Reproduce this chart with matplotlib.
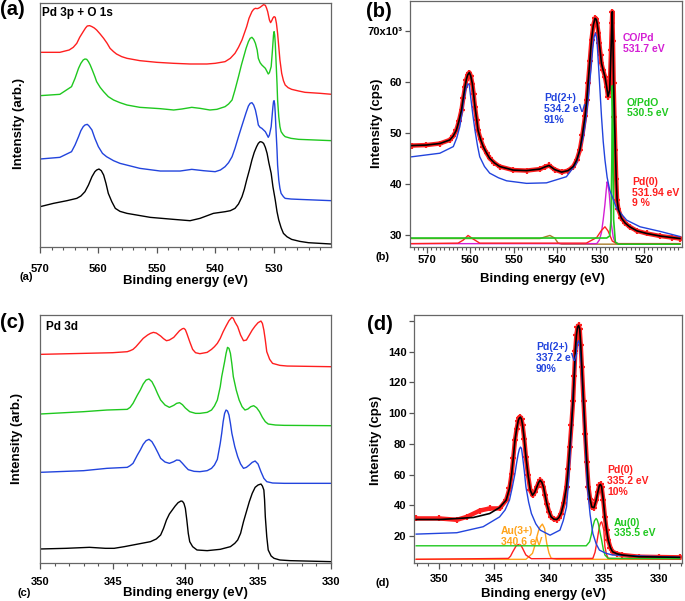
import matplotlib
matplotlib.use('Agg')
import matplotlib.pyplot as plt
from matplotlib.ticker import MultipleLocator, FixedLocator

plt.rcParams['font.family'] = ['Liberation Sans', 'DejaVu Sans']
plt.rcParams['font.weight'] = 'bold'
plt.rcParams['axes.labelweight'] = 'bold'

RED = '#ff1f1f'
GREEN = '#1fc81f'
BLUE = '#2244dd'
MAGENTA = '#d41fd4'
ORANGE = '#ffa31a'
OLIVE = '#a87c2a'

# ---- (a) Pd 3p + O 1s, arbitrary intensity ----
a_red_x = [570.0, 566.6, 565.0, 564.3, 563.7, 563.2, 562.6, 562.2, 561.9, 561.5, 561.1, 560.7, 560.3,
           559.7, 559.1, 558.5, 558.0, 557.4, 556.9, 556.0, 555.1, 552.9, 550.0, 547.1, 544.3, 541.4,
           540.0, 538.3, 537.4, 536.6, 536.0, 535.4, 535.0, 534.6, 534.2, 533.7, 533.4, 533.1, 532.8,
           532.6, 532.3, 532.0, 531.7, 531.4, 531.2, 531.0, 530.7, 530.5, 530.3, 530.1, 529.9, 529.7,
           529.5, 529.3, 529.1, 528.9, 528.6, 528.3, 528.0, 527.5, 526.9, 525.7, 524.6, 522.0, 520.0]
a_red_y = [583, 583, 590, 598, 610, 628, 645, 656, 662, 663, 660, 656, 650, 638, 625, 610, 595, 585,
           578, 570, 565, 558, 553, 550, 548, 548, 550, 555, 565, 580, 598, 620, 640, 660, 685, 705,
           712, 715, 714, 715, 718, 722, 726, 724, 716, 705, 680, 672, 678, 686, 690, 688, 670, 640,
           600, 560, 520, 498, 485, 477, 472, 467, 463, 460, 457]
a_green_x = [570.0, 566.6, 564.6, 564.0, 563.4, 563.0, 562.6, 562.3, 562.0, 561.7, 561.4, 561.0, 560.6,
             560.3, 559.7, 559.1, 558.3, 557.4, 556.3, 555.1, 552.9, 549.4, 547.1, 545.7, 544.0, 542.6,
             540.9, 539.7, 538.3, 537.7, 537.1, 536.6, 536.0, 535.5, 535.1, 534.7, 534.3, 534.0, 533.7,
             533.4, 533.1, 532.8, 532.6, 532.3, 532.0, 531.7, 531.4, 531.1, 530.9, 530.7, 530.4, 530.2,
             530.1, 530.0, 529.9, 529.8, 529.7, 529.6, 529.4, 529.3, 529.1, 528.9, 528.7, 528.3, 528.0,
             527.0, 525.7, 520.0]
a_green_y = [453, 457, 480, 505, 535, 550, 560, 563, 562, 555, 545, 528, 510, 495, 478, 465, 450, 440,
             432, 425, 418, 414, 410, 413, 418, 415, 410, 412, 420, 428, 440, 470, 510, 545, 570, 595,
             615, 625, 628, 622, 610, 590, 565, 552, 545, 540, 535, 525, 518, 522, 540, 585, 610, 635,
             645, 635, 610, 570, 490, 440, 390, 360, 345, 335, 330, 325, 322, 318]
a_blue_x = [570.0, 566.6, 564.6, 564.0, 563.4, 563.0, 562.6, 562.3, 561.9, 561.6, 561.1, 560.6, 560.0,
            559.3, 558.6, 557.4, 556.3, 552.9, 549.4, 546.0, 544.0, 542.0, 540.0, 539.1, 538.3, 537.7,
            537.1, 536.6, 536.0, 535.5, 535.1, 534.7, 534.3, 534.0, 533.7, 533.4, 533.1, 532.8, 532.6,
            532.3, 532.0, 531.7, 531.4, 531.1, 530.9, 530.7, 530.4, 530.2, 530.1, 530.0, 529.9, 529.8,
            529.7, 529.6, 529.4, 529.3, 529.1, 528.9, 528.7, 528.3, 528.0, 527.0, 525.7, 520.0]
a_blue_y = [263, 268, 285, 305, 330, 348, 360, 365, 367, 362, 350, 325, 300, 280, 270, 258, 250, 235,
            227, 227, 232, 228, 225, 230, 240, 252, 270, 295, 330, 358, 380, 402, 422, 430, 432, 425,
            410, 385, 365, 358, 355, 350, 345, 335, 328, 335, 360, 400, 420, 435, 438, 428, 400, 360,
            290, 245, 200, 175, 160, 150, 145, 143, 142, 138]
a_black_x = [570.0, 567.7, 565.4, 563.7, 563.0, 562.3, 561.7, 561.1, 560.6, 560.3, 559.9, 559.5, 559.1,
             558.7, 558.3, 557.7, 557.1, 556.3, 555.1, 551.1, 547.1, 544.3, 542.6, 540.3, 538.3, 537.4,
             536.6, 536.0, 535.4, 535.0, 534.6, 534.1, 533.7, 533.3, 532.9, 532.6, 532.3, 532.0, 531.7,
             531.4, 531.1, 530.8, 530.4, 530.1, 529.7, 529.4, 529.1, 528.7, 528.3, 527.7, 526.9, 525.5,
             524.0, 522.0, 520.0]
a_black_y = [120, 130, 138, 145, 152, 165, 185, 210, 225, 230, 233, 228, 215, 190, 160, 135, 115, 106,
             100, 88, 82, 78, 85, 100, 105, 108, 115, 128, 150, 172, 200, 232, 260, 283, 300, 310, 315,
             314, 310, 298, 280, 252, 220, 180, 140, 105, 80, 57, 40, 30, 22, 16, 12, 10, 8]

# ---- (b) O 1s fit, intensity in 10^3 cps ----
b_meas_x = [573.5, 570.1, 567.0, 564.7, 563.9, 563.2, 562.6, 562.0, 561.6, 561.2, 560.9, 560.6, 560.2,
            559.9, 559.5, 559.2, 558.9, 558.5, 558.2, 557.6, 557.0, 556.2, 555.5, 554.4, 553.2, 550.1,
            547.0, 543.9, 542.8, 541.8, 540.5, 538.9, 537.4, 536.2, 535.4, 534.7, 534.1, 533.5, 533.1,
            532.8, 532.4, 532.0, 531.6, 531.2, 530.9, 530.7, 530.4, 530.2, 529.9, 529.7, 529.3, 528.9,
            528.5, 528.2, 527.8, 527.5, 527.3, 527.2, 527.05, 526.9, 526.7, 526.5, 526.3, 526.1, 525.8,
            525.1, 524.2, 523.2, 521.5, 519.3, 516.2, 513.5, 511.6]
b_meas_y = [47.5, 47.6, 47.9, 48.6, 49.4, 50.5, 52.3, 54.5, 56.8, 59.0, 60.4, 61.3, 61.8, 61.2, 59.6,
            57.5, 55.1, 52.6, 50.5, 48.7, 47.3, 46.0, 45.0, 44.1, 43.4, 42.7, 42.6, 42.9, 43.3, 43.6,
            42.8, 42.3, 42.6, 43.4, 44.7, 46.6, 49.6, 53.2, 56.4, 59.7, 64.0, 68.2, 71.0, 72.4, 72.2,
            71.4, 69.5, 67.5, 65.2, 63.6, 62.2, 61.0, 59.0, 57.1, 58.4, 66.2, 71.5, 73.7, 68.0, 59.7,
            53.0, 46.6, 41.0, 36.8, 35.0, 33.3, 32.3, 31.6, 30.8, 30.3, 29.8, 29.5, 29.3]
b_pd2_x = [573.5, 567.0, 563.9, 563.1, 562.4, 561.9, 561.5, 561.0, 560.5, 560.2, 559.9, 559.4, 558.9,
           558.3, 557.8, 556.7, 555.5, 553.5, 551.6, 547.0, 542.4, 537.8, 535.5, 533.9, 533.3, 532.8,
           532.4, 532.0, 531.7, 531.4, 531.1, 530.8, 530.6, 530.2, 529.7, 529.3, 528.9, 528.4, 527.8,
           526.2, 523.9, 520.8, 516.2, 511.6]
b_pd2_y = [45.3, 46.0, 47.3, 49.0, 51.2, 53.8, 56.4, 58.6, 59.6, 59.3, 57.1, 53.6, 50.5, 47.4, 45.3,
           43.4, 42.1, 41.2, 40.6, 40.1, 40.2, 41.4, 44.0, 49.2, 52.6, 56.4, 60.0, 63.6, 66.6, 68.8,
           69.5, 68.5, 66.2, 60.5, 53.2, 48.3, 44.7, 41.3, 38.8, 35.2, 32.9, 31.6, 30.7, 29.7]
b_opdo_x = [573.5, 528.5, 527.8, 527.5, 527.3, 527.2, 527.0, 526.9, 526.5, 525.8, 511.6]
b_opdo_y = [29.4, 29.4, 29.8, 33.0, 45.0, 59.2, 50.0, 33.0, 28.6, 28.2, 28.2]
b_co_x = [573.5, 530.8, 530.2, 529.7, 529.3, 528.9, 528.6, 528.4, 528.2, 527.9, 527.6, 527.4, 527.0,
          526.6, 525.8, 511.6]
b_co_y = [28.3, 28.3, 29.0, 30.5, 33.0, 36.0, 38.8, 40.4, 39.8, 38.0, 34.8, 32.0, 29.6, 28.6, 28.3, 28.3]
b_pd0_x = [573.5, 562.8, 561.6, 560.5, 559.3, 557.8, 533.2, 530.8, 529.7, 528.9, 528.2, 527.2, 526.2,
           511.6]
b_pd0_y = [28.3, 28.4, 29.0, 29.9, 29.2, 28.4, 28.4, 29.5, 30.9, 31.6, 30.8, 28.8, 28.3, 28.3]
b_sat_x = [573.5, 543.9, 542.8, 541.6, 540.5, 539.7, 538.9, 511.6]
b_sat_y = [29.3, 29.3, 29.6, 29.9, 29.4, 28.4, 28.2, 28.2]
b_yticks = [30, 40, 50, 60, 70]
b_ylabels = ['30', '40', '50', '60', '70x10³']

# ---- (c) Pd 3d, arbitrary intensity ----
c_red_x = [350.0, 347.0, 345.0, 344.0, 343.8, 343.6, 343.4, 343.1, 342.9, 342.6, 342.4, 342.2, 342.0,
           341.7, 341.5, 341.3, 341.1, 340.8, 340.6, 340.4, 340.2, 340.1, 340.0, 339.9, 339.7, 339.5,
           339.3, 339.0, 338.5, 338.2, 338.0, 337.8, 337.6, 337.4, 337.2, 337.0, 336.8, 336.7, 336.6,
           336.4, 336.2, 336.0, 335.8, 335.6, 335.4, 335.2, 335.0, 334.8, 334.7, 334.6, 334.5, 334.4,
           334.2, 334.0, 333.5, 333.0, 330.0]
c_red_y = [627, 630, 632, 635, 638, 642, 650, 665, 675, 685, 690, 693, 691, 682, 674, 668, 670, 678,
           688, 698, 704, 705, 701, 690, 665, 642, 632, 629, 633, 642, 650, 660, 675, 695, 712, 728,
           738, 735, 725, 710, 685, 668, 670, 685, 700, 712, 722, 727, 720, 700, 670, 635, 612, 600,
           594, 592, 590]
c_green_x = [350.0, 347.0, 345.4, 344.0, 343.8, 343.6, 343.3, 343.1, 342.9, 342.7, 342.5, 342.3, 342.1,
             341.9, 341.7, 341.4, 341.1, 340.8, 340.6, 340.4, 340.2, 340.0, 339.7, 339.3, 339.0, 338.5,
             338.2, 338.0, 337.8, 337.6, 337.5, 337.3, 337.2, 337.1, 337.0, 336.9, 336.8, 336.7, 336.5,
             336.3, 336.1, 335.9, 335.7, 335.5, 335.3, 335.1, 334.9, 334.7, 334.5, 334.3, 333.8, 333.2,
             330.0]
c_green_y = [448, 455, 460, 462, 468, 480, 505, 520, 538, 550, 553, 545, 528, 508, 490, 475, 468, 474,
             480, 482, 476, 466, 455, 450, 450, 453, 460, 472, 490, 530, 560, 605, 630, 648, 645, 630,
             598, 560, 520, 490, 470, 460, 463, 470, 473, 467, 455, 438, 425, 418, 415, 414, 413]
c_blue_x = [350.0, 347.0, 345.4, 344.0, 343.8, 343.6, 343.3, 343.1, 342.9, 342.7, 342.5, 342.3, 342.1,
            341.9, 341.7, 341.4, 341.1, 340.8, 340.6, 340.4, 340.2, 340.0, 339.8, 339.4, 339.0, 338.5,
            338.2, 338.0, 337.8, 337.6, 337.5, 337.4, 337.3, 337.2, 337.1, 337.0, 336.9, 336.8, 336.6,
            336.4, 336.2, 336.0, 335.8, 335.6, 335.4, 335.2, 335.0, 334.8, 334.6, 334.4, 334.0, 333.2,
            330.0]
c_blue_y = [273, 278, 285, 288, 293, 300, 325, 340, 357, 368, 372, 365, 350, 333, 315, 304, 300, 305,
            310, 309, 300, 290, 281, 276, 275, 278, 285, 295, 312, 360, 390, 425, 450, 460, 457, 445,
            420, 390, 350, 320, 298, 285, 288, 295, 303, 307, 298, 275, 255, 245, 241, 240, 240]
c_black_x = [350.0, 348.2, 346.6, 345.5, 344.9, 344.2, 343.6, 343.0, 342.4, 342.0, 341.7, 341.5, 341.3,
             341.1, 340.9, 340.7, 340.5, 340.3, 340.2, 340.1, 340.0, 339.9, 339.8, 339.7, 339.5, 339.2,
             338.5, 337.6, 336.9, 336.6, 336.4, 336.2, 336.0, 335.8, 335.6, 335.4, 335.2, 335.0, 334.8,
             334.7, 334.6, 334.55, 334.5, 334.4, 334.3, 334.1, 333.9, 333.5, 332.8, 330.0]
c_black_y = [43, 45, 48, 45, 45, 50, 55, 60, 65, 73, 85, 105, 130, 148, 160, 172, 182, 187, 186, 180,
             165, 130, 90, 65, 50, 40, 38, 42, 50, 60, 70, 90, 125, 155, 185, 210, 228, 235, 238, 232,
             220, 190, 140, 80, 40, 22, 15, 10, 8, 5]

# ---- (d) Pd 3d fit, intensity in cps ----
d_meas_x = [352.1, 350.0, 348.4, 347.5, 346.3, 345.4, 344.5, 343.9, 343.6, 343.4, 343.25, 343.1, 342.95,
            342.8, 342.7, 342.6, 342.5, 342.4, 342.25, 342.1, 341.9, 341.7, 341.5, 341.3, 341.1, 340.95,
            340.8, 340.65, 340.5, 340.35, 340.2, 340.0, 339.8, 339.55, 339.3, 339.1, 338.9, 338.65,
            338.4, 338.25, 338.1, 337.95, 337.8, 337.7, 337.6, 337.5, 337.4, 337.3, 337.2, 337.1, 337.0,
            336.85, 336.7, 336.55, 336.4, 336.25, 336.1, 335.9, 335.7, 335.55, 335.4, 335.3, 335.2,
            335.05, 334.9, 334.75, 334.6, 334.4, 334.2, 333.8, 333.3, 331.8, 330.0, 328.1]
d_meas_y = [31.5, 31.5, 30.6, 32.5, 36.6, 38.0, 38.0, 43.4, 51.0, 60.6, 71.0, 82.3, 89.5, 95.2, 96.8,
            97.4, 96.0, 92.0, 83.0, 71.5, 59.5, 49.8, 46.6, 48.5, 52.0, 54.8, 56.3, 55.0, 52.0, 46.5,
            41.2, 36.0, 32.5, 31.0, 30.8, 32.0, 34.7, 41.5, 52.0, 63.5, 77.9, 92.5, 108.2, 124.0, 140.6,
            150.5, 155.8, 157.0, 154.7, 144.0, 129.8, 108.0, 86.6, 68.0, 52.0, 44.0, 39.0, 38.5, 43.4,
            48.5, 53.1, 53.6, 52.0, 43.5, 32.5, 24.0, 17.4, 12.5, 9.8, 8.5, 7.7, 6.6, 6.4, 6.2]
d_fit_x = [352.1, 349.9, 346.9, 345.4, 344.5] + d_meas_x[7:]
d_fit_y = [30.8, 30.8, 32.1, 34.7, 38.6] + d_meas_y[7:]
d_pd2_x = [352.1, 348.4, 346.0, 344.5, 344.0, 343.6, 343.35, 343.1, 342.95, 342.8, 342.7, 342.6, 342.5,
           342.4, 342.25, 342.1, 341.85, 341.6, 341.2, 340.8, 339.9, 339.0, 338.7, 338.4, 338.25, 338.1,
           337.95, 337.8, 337.65, 337.5, 337.4, 337.3, 337.2, 337.05, 336.8, 336.65, 336.5, 336.25,
           336.0, 335.7, 335.4, 334.8, 334.2, 328.1]
d_pd2_y = [21.3, 22.2, 26.1, 32.5, 37.0, 43.4, 51.5, 60.6, 67.5, 73.6, 76.5, 77.9, 77.0, 71.5, 62.5,
           52.0, 42.0, 34.7, 28.0, 23.9, 20.6, 23.9, 30.0, 39.0, 52.0, 69.3, 90.0, 112.5, 128.0, 140.6,
           145.5, 147.1, 144.5, 132.0, 97.4, 74.0, 52.0, 34.0, 21.7, 15.0, 10.9, 8.8, 7.7, 6.2]
d_au3_x = [352.1, 342.1, 341.5, 341.3, 341.1, 340.95, 340.8, 340.6, 340.4, 340.3, 340.2, 340.0, 339.8,
           339.3, 328.1]
d_au3_y = [4.9, 4.9, 8.8, 13.5, 19.6, 23.5, 26.1, 27.8, 25.0, 20.0, 15.2, 9.0, 5.6, 4.9, 4.9]
d_pd0_x = [352.1, 343.7, 343.5, 343.3, 343.0, 342.85, 342.7, 342.55, 342.4, 342.25, 342.1, 341.6, 336.0,
           335.8, 335.6, 335.5, 335.4, 335.3, 335.2, 335.1, 335.0, 334.9, 334.75, 334.6, 328.1]
d_pd0_y = [4.9, 5.5, 7.0, 9.8, 13.5, 14.3, 14.6, 14.0, 12.0, 9.8, 7.7, 5.3, 5.5, 9.5, 17.4, 22.0, 26.1,
           28.5, 29.3, 27.0, 23.9, 13.1, 8.0, 5.5, 4.9]
d_au0_x = [352.1, 336.6, 336.3, 336.15, 336.0, 335.85, 335.7, 335.6, 335.5, 335.35, 335.2, 335.05,
           334.9, 334.6, 328.1]
d_au0_y = [13.7, 13.7, 16.3, 20.5, 26.1, 30.0, 31.5, 30.5, 28.2, 22.5, 17.4, 11.5, 7.7, 5.5, 5.3]
d_yticks = [20, 40, 60, 80, 100, 120, 140, 160]
d_ylabels = ['20', '40', '60', '80', '100', '120', '140', '']

fig = plt.figure(figsize=(6.85, 6.01), dpi=100)
ax_a = fig.add_axes([0.0584, 0.5895, 0.4244, 0.405])
ax_b = fig.add_axes([0.5985, 0.5895, 0.3966, 0.4093])
ax_c = fig.add_axes([0.0584, 0.0627, 0.4244, 0.4131])
ax_d = fig.add_axes([0.6044, 0.0627, 0.3908, 0.4131])


def style(ax, major, minor, pad):
    for s in ax.spines.values():
        s.set_color('#666666')
        s.set_linewidth(0.9)
    ax.xaxis.set_major_locator(MultipleLocator(major))
    ax.xaxis.set_minor_locator(MultipleLocator(minor))
    ax.tick_params(axis='both', which='both', direction='out', color='#555555', labelsize=8)
    ax.tick_params(axis='x', which='major', length=4.5, width=0.9, pad=pad)
    ax.tick_params(axis='x', which='minor', length=2.5, width=0.8)
    ax.tick_params(axis='y', which='major', length=3.5, width=0.9, pad=2)


# (a)
for xs, ys, c in [(a_red_x, a_red_y, RED), (a_green_x, a_green_y, GREEN),
                  (a_blue_x, a_blue_y, BLUE), (a_black_x, a_black_y, 'black')]:
    ax_a.plot(xs, ys, color=c, lw=1.0)
ax_a.set_xlim(570, 520.2)
ax_a.set_ylim(0, 730)
ax_a.set_yticks([])
style(ax_a, 10, 2, 8)
ax_a.text(0.008, 0.985, 'Pd 3p + O 1s', transform=ax_a.transAxes, va='top', ha='left', fontsize=8.5)

# (b)
ax_b.plot(b_meas_x, b_meas_y, color=RED, lw=3.2)
ax_b.plot(b_meas_x, b_meas_y, ls='none', marker='+', ms=5, mew=1.6, color=RED)
ax_b.plot(b_sat_x, b_sat_y, color=OLIVE, lw=1.0)
ax_b.plot(b_co_x, b_co_y, color=MAGENTA, lw=1.0)
ax_b.plot(b_pd0_x, b_pd0_y, color=RED, lw=1.0)
ax_b.plot(b_opdo_x, b_opdo_y, color=GREEN, lw=1.2)
ax_b.plot(b_pd2_x, b_pd2_y, color=BLUE, lw=1.0)
ax_b.plot(b_meas_x, b_meas_y, color='black', lw=1.2)
ax_b.set_xlim(573.9, 511.2)
ax_b.set_ylim(27.7, 75.85)
ax_b.yaxis.set_major_locator(FixedLocator(b_yticks))
ax_b.set_yticklabels(b_ylabels)
style(ax_b, 10, 1, 1.5)
tb = dict(va='top', ha='left', fontsize=7.5, linespacing=1.1)
ax_b.text(543.0, 57.8, 'Pd(2+)\n534.2 eV\n91%', color=BLUE, **tb)
ax_b.text(524.8, 69.5, 'CO/Pd\n531.7 eV', color=MAGENTA, **tb)
ax_b.text(523.8, 56.9, 'O/PdO\n530.5 eV', color=GREEN, **tb)
ax_b.text(522.7, 41.4, 'Pd(0)\n531.94 eV\n9 %', color=RED, **tb)

# (c)
for xs, ys, c in [(c_red_x, c_red_y, RED), (c_green_x, c_green_y, GREEN),
                  (c_blue_x, c_blue_y, BLUE), (c_black_x, c_black_y, 'black')]:
    ax_c.plot(xs, ys, color=c, lw=1.0)
ax_c.set_xlim(350, 330)
ax_c.set_ylim(0, 745)
ax_c.set_yticks([])
style(ax_c, 5, 1, 5)
ax_c.text(0.02, 0.977, 'Pd 3d', transform=ax_c.transAxes, va='top', ha='left', fontsize=8.5)

# (d)
ax_d.plot(d_meas_x, d_meas_y, color=RED, lw=3.2)
ax_d.plot(d_meas_x, d_meas_y, ls='none', marker='+', ms=5, mew=1.6, color=RED)
ax_d.plot(d_au3_x, d_au3_y, color=ORANGE, lw=1.0)
ax_d.plot(d_pd0_x, d_pd0_y, color=RED, lw=1.0)
ax_d.plot(d_au0_x, d_au0_y, color=GREEN, lw=1.0)
ax_d.plot(d_pd2_x, d_pd2_y, color=BLUE, lw=1.0)
ax_d.plot(d_fit_x, d_fit_y, color='black', lw=1.2)
ax_d.set_xlim(352.3, 327.9)
ax_d.set_ylim(2.3, 163.8)
ax_d.yaxis.set_major_locator(FixedLocator(d_yticks))
ax_d.set_yticklabels(d_ylabels)
style(ax_d, 5, 1, 3.5)
ax_d.text(341.2, 146, 'Pd(2+)\n337.2 eV\n90%', color=BLUE, **tb)
ax_d.text(334.7, 66.1, 'Pd(0)\n335.2 eV\n10%', color=RED, **tb)
ax_d.text(334.1, 32.1, 'Au(0)\n335.5 eV', color=GREEN, **tb)
ax_d.text(344.4, 26.7, 'Au(3+)\n340.6 eV', color=ORANGE, **tb)

# axis labels
for ax, xl, yl, xc, xy, yx, yy in [
        (ax_a, 'Binding energy (eV)', 'Intensity (arb.)', 0.499, -0.116, -0.052, 0.508),
        (ax_b, 'Binding energy (eV)', 'Intensity (cps)', 0.486, -0.107, -0.099, 0.5),
        (ax_c, 'Binding energy (eV)', 'Intensity (arb.)', 0.499, -0.094, -0.058, 0.503),
        (ax_d, 'Binding energy (eV)', 'Intensity (cps)', 0.482, -0.098, -0.12, 0.497)]:
    ax.set_xlabel(xl, fontsize=9.5)
    ax.set_ylabel(yl, fontsize=9.5)
    ax.xaxis.set_label_coords(xc, xy)
    ax.yaxis.set_label_coords(yx, yy)
    for t in ax.get_xticklabels() + ax.get_yticklabels():
        t.set_fontweight('bold')

# panel letters
for x, y, s in [(0, 601, '(a)'), (366, 599, '(b)'), (0, 288, '(c)'), (367, 286, '(d)')]:
    fig.text(x / 685, y / 601, s, fontsize=14.5, va='top', ha='left')
for x, y, s in [(20, 329, '(a)'), (375, 349, '(b)'), (18, 13, '(c)'), (376, 23, '(d)')]:
    fig.text(x / 685, y / 601, s, fontsize=8, va='top', ha='left')

fig.savefig('out.png', dpi=100)
